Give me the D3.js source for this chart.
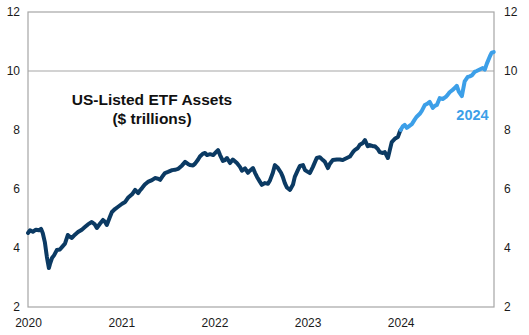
<!DOCTYPE html>
<html><head><meta charset="utf-8">
<script src="https://cdn.jsdelivr.net/npm/d3@7"></script>
<style>html,body{margin:0;padding:0;background:#fff;}svg{display:block;font-family:"Liberation Sans",Arial,sans-serif;}</style>
</head><body><svg id="c" width="529" height="335"></svg>
<script>
// ---- data ----
const datesPre = ["2020-01-01","2020-01-09","2020-01-20","2020-02-01","2020-02-13","2020-02-21","2020-02-28","2020-03-07","2020-03-15","2020-03-19","2020-03-23","2020-03-27","2020-04-04","2020-04-12","2020-04-23","2020-05-05","2020-05-13","2020-05-25","2020-06-05","2020-06-13","2020-06-21","2020-07-03","2020-07-15","2020-07-30","2020-08-11","2020-08-23","2020-09-07","2020-09-19","2020-09-27","2020-10-09","2020-10-21","2020-10-28","2020-11-05","2020-11-17","2020-11-25","2020-12-07","2020-12-18",
"2021-01-04","2021-01-16","2021-01-27","2021-02-12","2021-02-24","2021-03-08","2021-03-15","2021-03-23","2021-04-03","2021-04-15","2021-05-01","2021-05-13","2021-05-25","2021-06-02","2021-06-13","2021-06-21","2021-07-03","2021-07-19","2021-07-30","2021-08-11","2021-08-27","2021-09-08","2021-09-19","2021-09-27","2021-10-09","2021-10-17","2021-10-29","2021-11-05","2021-11-17","2021-11-25","2021-12-03","2021-12-15","2021-12-27",
"2022-01-07","2022-01-15","2022-01-23","2022-02-03","2022-02-11","2022-02-19","2022-03-03","2022-03-14","2022-03-30","2022-04-11","2022-04-19","2022-05-01","2022-05-12","2022-05-20","2022-06-01","2022-06-09","2022-06-17","2022-06-28","2022-07-06","2022-07-18","2022-07-30","2022-08-07","2022-08-18","2022-08-26","2022-09-07","2022-09-19","2022-09-26","2022-10-04","2022-10-12","2022-10-24","2022-11-05","2022-11-12","2022-11-24","2022-12-02","2022-12-14","2022-12-22",
"2023-01-02","2023-01-10","2023-01-22","2023-02-06","2023-02-18","2023-03-02","2023-03-10","2023-03-22","2023-03-29","2023-04-10","2023-04-26","2023-05-08","2023-05-19","2023-06-04","2023-06-16","2023-06-28","2023-07-05","2023-07-17","2023-07-25","2023-08-06","2023-08-14","2023-08-25","2023-09-02","2023-09-14","2023-09-22","2023-10-04","2023-10-11","2023-10-23","2023-10-31","2023-11-12","2023-11-19","2023-11-27","2023-12-09","2023-12-21","2023-12-29","2024-01-01"];
const valuesPre = [4.51,4.60,4.55,4.62,4.60,4.65,4.50,4.20,3.70,3.50,3.32,3.45,3.66,3.75,3.93,3.95,4.03,4.15,4.44,4.38,4.34,4.45,4.54,4.62,4.71,4.80,4.88,4.80,4.68,4.82,4.95,4.90,4.78,5.05,5.22,5.32,5.39,
5.50,5.56,5.70,5.82,5.97,5.86,5.95,6.03,6.15,6.24,6.30,6.37,6.35,6.31,6.45,6.54,6.58,6.64,6.65,6.68,6.80,6.92,6.85,6.81,6.80,6.86,7.00,7.10,7.20,7.22,7.15,7.18,7.15,
7.25,7.32,7.15,6.95,6.98,7.05,6.88,7.00,6.88,6.75,6.62,6.70,6.55,6.62,6.71,6.55,6.41,6.25,6.14,6.20,6.18,6.30,6.55,6.81,6.71,6.55,6.41,6.20,6.05,5.97,6.15,6.41,6.64,6.78,6.81,6.64,
6.58,6.54,6.75,7.05,7.08,6.98,6.92,6.71,6.85,6.98,7.00,7.00,6.98,7.05,7.10,7.25,7.32,7.39,7.50,7.56,7.66,7.45,7.49,7.45,7.45,7.35,7.25,7.22,7.25,7.05,7.30,7.59,7.70,7.76,7.95,8.00];
const dates2024 = ["2024-01-01","2024-01-09","2024-01-17","2024-01-25","2024-02-06","2024-02-14","2024-02-25","2024-03-04","2024-03-16","2024-03-24","2024-04-05","2024-04-16","2024-04-24","2024-05-06","2024-05-14","2024-05-22","2024-06-02","2024-06-14","2024-06-26","2024-07-04","2024-07-11","2024-07-23","2024-07-31","2024-08-08","2024-08-16","2024-08-28","2024-09-08","2024-09-20","2024-09-28","2024-10-06","2024-10-17","2024-10-25","2024-11-06","2024-11-18","2024-11-26","2024-12-04","2024-12-16","2024-12-23","2024-12-31"];
const values2024 = [8.00,8.12,8.17,8.07,8.15,8.20,8.35,8.45,8.55,8.65,8.85,8.90,8.95,8.75,8.82,8.85,9.08,9.05,9.12,9.20,9.28,9.36,9.42,9.50,9.30,9.15,9.65,9.80,9.82,9.85,9.97,10.00,10.05,10.10,10.05,10.25,10.50,10.62,10.64];
const yTicks = [2,4,6,8,10,12];
const xTickYears = [2020,2021,2022,2023,2024];
const titleLines = ["US-Listed ETF Assets","($ trillions)"];
const seriesLabel = "2024";

// ---- chart ----
const svg = d3.select("#c");
const L = 28, R = 494, T = 12, B = 307;
const parse = d3.timeParse("%Y-%m-%d");
const x = d3.scaleTime().domain([new Date(2020,0,1), new Date(2025,0,1)]).range([L, R]);
const y = d3.scaleLinear().domain([2,12]).range([B, T]);

// reference line at 10
svg.append("line").attr("x1",L).attr("x2",R).attr("y1",y(10)).attr("y2",y(10))
  .attr("stroke","#a6a6a6").attr("stroke-width",1.2);

// frame
svg.append("rect").attr("x",L).attr("y",T).attr("width",R-L).attr("height",B-T)
  .attr("fill","none").attr("stroke","#a6a6a6").attr("stroke-width",1.2);

// axes
const fontCol = "#1a1a1a";
const yl = svg.append("g").attr("transform",`translate(${L-8},0)`)
  .call(d3.axisLeft(y).tickValues(yTicks).tickSize(0).tickPadding(0));
const yr = svg.append("g").attr("transform",`translate(${R+10},0)`)
  .call(d3.axisRight(y).tickValues(yTicks).tickSize(0).tickPadding(0));
const xa = svg.append("g").attr("transform",`translate(0,${B+9})`)
  .call(d3.axisBottom(x).tickValues(xTickYears.map(v=>new Date(v,0,1))).tickFormat(d3.timeFormat("%Y")).tickSize(0).tickPadding(0));
[yl,yr,xa].forEach(g=>{
  g.select(".domain").remove();
  g.selectAll("text").attr("fill",fontCol).style("font-size","12px").style("font-family","'Liberation Sans',Arial,sans-serif");
});
xa.selectAll("text").attr("dy","0.9em");

// lines
const line = d3.line().x(d=>x(d[0])).y(d=>y(d[1]));
const pre = datesPre.map((d,i)=>[parse(d), valuesPre[i]]);
const cur = dates2024.map((d,i)=>[parse(d), values2024[i]]);
svg.append("path").datum(pre).attr("d",line).attr("fill","none")
  .attr("stroke","#0b3a63").attr("stroke-width",4).attr("stroke-linejoin","round").attr("stroke-linecap","round");
svg.append("path").datum(cur).attr("d",line).attr("fill","none")
  .attr("stroke","#3c9fe8").attr("stroke-width",4).attr("stroke-linejoin","round").attr("stroke-linecap","round");

// title
svg.append("text").attr("x",152).attr("y",105).attr("text-anchor","middle")
  .style("font-size","15.5px").style("font-weight","bold").attr("fill","#111").text(titleLines[0]);
svg.append("text").attr("x",152).attr("y",124).attr("text-anchor","middle")
  .style("font-size","15.5px").style("font-weight","bold").attr("fill","#111").text(titleLines[1]);

// series label
svg.append("text").attr("x",472.5).attr("y",120).attr("text-anchor","middle")
  .style("font-size","14.5px").style("font-weight","bold").attr("fill","#3c9fe8").text(seriesLabel);
</script></body></html>
